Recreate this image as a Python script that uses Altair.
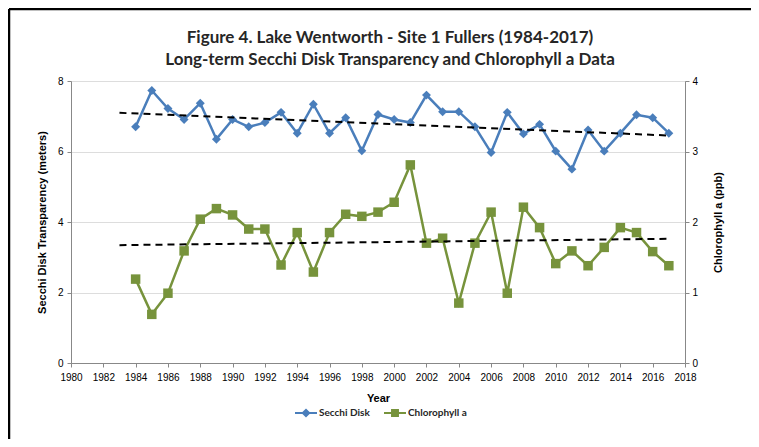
import altair as alt
import pandas as pd

years = list(range(1984, 2018))
secchi = [6.70, 7.73, 7.22, 6.91, 7.37, 6.35, 6.91, 6.70, 6.82, 7.11,
          6.52, 7.34, 6.52, 6.96, 6.02, 7.05, 6.91, 6.82, 7.60, 7.13,
          7.13, 6.70, 5.97, 7.11, 6.50, 6.77, 6.01, 5.50, 6.61, 6.01,
          6.52, 7.04, 6.96, 6.52]
chl = [1.19, 0.69, 0.99, 1.59, 2.04, 2.19, 2.10, 1.90, 1.90, 1.39,
       1.85, 1.29, 1.85, 2.11, 2.08, 2.14, 2.28, 2.81, 1.70, 1.77,
       0.85, 1.70, 2.14, 0.99, 2.21, 1.92, 1.41, 1.59, 1.38, 1.64,
       1.92, 1.85, 1.58, 1.38]
series_names = ["Secchi Disk", "Chlorophyll a"]
title_lines = ["Figure 4. Lake Wentworth - Site 1 Fullers (1984-2017)",
               "Long-term Secchi Disk Transparency and Chlorophyll a Data"]
x_ticks = list(range(1980, 2019, 2))
left_ticks = [0, 2, 4, 6, 8]
right_ticks = [0, 1, 2, 3, 4]

df = pd.DataFrame({"year": years, "secchi": secchi, "chl": chl})
legend_df = pd.DataFrame({"series": series_names})
border_df = pd.DataFrame({"k": [0]})
title1_df = pd.DataFrame({"t": [title_lines[0]]})
title2_df = pd.DataFrame({"t": [title_lines[1]]})

FONT = "Lato"
BLUE = "#4A7EBB"
GREEN = "#77933C"
GRID = "#BFBFBF"
TXT = "#262626"

DIAMOND_LEG = "M-1,-0.09L1,-0.09L1,0.09L-1,0.09Z M0,-0.42L0.42,0L0,0.42L-0.42,0Z"
SQUARE_LEG = "M-1,-0.09L1,-0.09L1,0.09L-1,0.09Z M-0.36,-0.36L0.36,-0.36L0.36,0.36L-0.36,0.36Z"

W, H = 614, 282
PL, PT, PR, PB = 63, 73, 66, 76

xaxis = alt.Axis(values=x_ticks, format="d", title="Year", grid=False,
                 labelOverlap=False, labelFlush=False, labelBound=False,
                 tickSize=4, labelPadding=5, titlePadding=10)
xenc = alt.X("year:Q", scale=alt.Scale(domain=[1980, 2018], nice=False, zero=False), axis=xaxis)

yleft = alt.Y("secchi:Q",
              scale=alt.Scale(domain=[0, 8], nice=False),
              axis=alt.Axis(values=left_ticks, format="d", title="Secchi Disk Transparency (meters)",
                            grid=True, tickSize=4, labelPadding=4, titlePadding=10))

yright = alt.Y("chl:Q", scale=alt.Scale(domain=[0, 4], nice=False),
               axis=alt.Axis(values=right_ticks, format="d", orient="right",
                             title="Chlorophyll a (ppb)", grid=False, tickSize=4,
                             labelPadding=3, titlePadding=26, titleAngle=270))

base_s = alt.Chart(df)
s_line = base_s.mark_line(color=BLUE, strokeWidth=2.5).encode(x=xenc, y=yleft)
s_pts = base_s.mark_point(shape="diamond", filled=True, color=BLUE, size=80, opacity=1).encode(x=xenc, y=yleft)
s_trend = base_s.transform_regression("year", "secchi", extent=[1983, 2017]).mark_line(
    color="black", strokeWidth=2, strokeDash=[7, 5]).encode(x=xenc, y=yleft)

legend_layer = alt.Chart(legend_df).transform_filter("false").mark_point(filled=True, opacity=1).encode(
    color=alt.Color("series:N", scale=alt.Scale(domain=series_names, range=[BLUE, GREEN]),
                    legend=alt.Legend(title=None, orient="none", legendX=224, legendY=321,
                                      direction="horizontal", symbolSize=484,
                                      labelFont=FONT, labelFontSize=10, labelFontWeight="bold",
                                      labelColor=TXT, columnPadding=14, labelOffset=2,
                                      symbolStrokeWidth=0)),
    shape=alt.Shape("series:N", scale=alt.Scale(domain=series_names, range=[DIAMOND_LEG, SQUARE_LEG]),
                    legend=alt.Legend(title=None, orient="none", legendX=224, legendY=321,
                                      direction="horizontal", symbolSize=484)),
)

border_top = alt.Chart(border_df).mark_rule(color="black", strokeWidth=2.5).encode(
    x=alt.value(-62), x2=alt.value(W + PR), y=alt.value(-72))
border_left = alt.Chart(border_df).mark_rule(color="black", strokeWidth=2.5).encode(
    x=alt.value(-62), y=alt.value(-72), y2=alt.value(H + PB))

title1 = alt.Chart(title1_df).mark_text(font=FONT, fontSize=17, fontWeight="bold", color=TXT,
                                        align="center", baseline="middle").encode(
    text="t:N", x=alt.value(W / 2 + 12), y=alt.value(-43))
title2 = alt.Chart(title2_df).mark_text(font=FONT, fontSize=17, fontWeight="bold", color=TXT,
                                        align="center", baseline="middle").encode(
    text="t:N", x=alt.value(W / 2 + 12), y=alt.value(-21))

left = alt.layer(s_line, s_pts, s_trend, legend_layer, border_top, border_left, title1, title2)

base_c = alt.Chart(df)
c_line = base_c.mark_line(color=GREEN, strokeWidth=2.5).encode(x=xenc, y=yright)
c_pts = base_c.mark_point(shape="square", filled=True, color=GREEN, size=90, opacity=1).encode(x=xenc, y=yright)
c_trend = base_c.transform_regression("year", "chl", extent=[1983, 2017]).mark_line(
    color="black", strokeWidth=2, strokeDash=[7, 5]).encode(x=xenc, y=yright)
right = alt.layer(c_line, c_pts, c_trend)

chart = alt.layer(left, right).resolve_scale(y="independent").properties(
    width=W, height=H,
    autosize=alt.AutoSizeParams(type="none"),
    padding={"left": PL, "top": PT, "right": PR, "bottom": PB},
).configure_view(strokeWidth=0).configure_axis(
    labelFont=FONT, labelFontSize=10, labelFontWeight="bold", labelColor=TXT,
    titleFont=FONT, titleFontSize=12, titleFontWeight="bold", titleColor=TXT,
    domainColor=GRID, tickColor=GRID, gridColor=GRID, gridWidth=1.2, domainWidth=1.2,
).configure_axisX(labelOverlap=False).configure(background="white")

chart.save("out.html", embed_options={"renderer": "svg", "actions": False})
